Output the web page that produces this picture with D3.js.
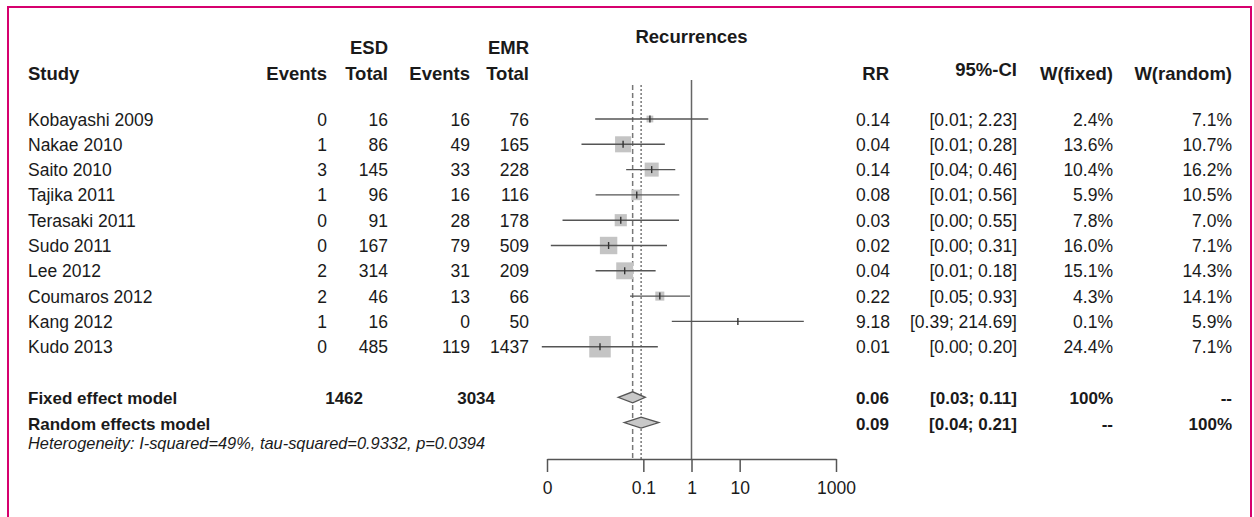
<!DOCTYPE html>
<html>
<head>
<meta charset="utf-8">
<style>
  body { margin: 0; background: #fff; }
  svg text { font-family: "Liberation Sans", Arial, sans-serif; fill: #1a1a1a; }
</style>
</head>
<body>
<script src="https://cdn.jsdelivr.net/npm/d3@7"></script>
<script>
// study table
const studies = ["Kobayashi 2009", "Nakae 2010", "Saito 2010", "Tajika 2011", "Terasaki 2011",
  "Sudo 2011", "Lee 2012", "Coumaros 2012", "Kang 2012", "Kudo 2013"];
const esdEvents = [0, 1, 3, 1, 0, 0, 2, 2, 1, 0];
const esdTotal = [16, 86, 145, 96, 91, 167, 314, 46, 16, 485];
const emrEvents = [16, 49, 33, 16, 28, 79, 31, 13, 0, 119];
const emrTotal = [76, 165, 228, 116, 178, 509, 209, 66, 50, 1437];
const rrLabels = ["0.14", "0.04", "0.14", "0.08", "0.03", "0.02", "0.04", "0.22", "9.18", "0.01"];
const ciLabels = ["[0.01; 2.23]", "[0.01; 0.28]", "[0.04; 0.46]", "[0.01; 0.56]", "[0.00; 0.55]",
  "[0.00; 0.31]", "[0.01; 0.18]", "[0.05; 0.93]", "[0.39; 214.69]", "[0.00; 0.20]"];
const wFixed = [2.4, 13.6, 10.4, 5.9, 7.8, 16.0, 15.1, 4.3, 0.1, 24.4];
const wRandom = [7.1, 10.7, 16.2, 10.5, 7.0, 7.1, 14.3, 14.1, 5.9, 7.1];
// unrounded estimates
const rr = [0.137, 0.038, 0.149, 0.073, 0.034, 0.019, 0.041, 0.22, 9.18, 0.0126];
const lower = [0.0100, 0.0052, 0.044, 0.0102, 0.0021, 0.0012, 0.0102, 0.053, 0.39, 0.00078];
const upper = [2.23, 0.28, 0.46, 0.56, 0.55, 0.31, 0.18, 0.93, 214.69, 0.20];

// pooled models
const models = ["Fixed effect model", "Random effects model"];
const modelRR = [0.06, 0.09];
const modelLower = [0.03, 0.04];
const modelUpper = [0.11, 0.21];
const modelRRLabels = ["0.06", "0.09"];
const modelCILabels = ["[0.03; 0.11]", "[0.04; 0.21]"];
const modelWFixed = ["100%", "--"];
const modelWRandom = ["--", "100%"];
const pooledTotals = [1462, 3034];
const heterogeneity = "Heterogeneity: I-squared=49%, tau-squared=0.9332, p=0.0394";

const axisTicks = [0.001, 0.1, 1, 10, 1000];
const axisTickLabels = ["0", "0.1", "1", "10", "1000"];

const W = 1254, H = 517;
const fs = 17.5;
const hfs = 18.5;
const dark = "#555";

const svg = d3.select("body").append("svg").attr("width", W).attr("height", H);

// frame (no bottom edge)
svg.append("path")
  .attr("d", `M8,${H} L8,7 L1251,7 L1251,${H}`)
  .attr("fill", "none").attr("stroke", "#d6006e").attr("stroke-width", 2);

const x = d3.scaleLog().domain([0.001, 1000]).range([547, 836]);
const y = d3.scaleLinear().domain([0, 1]).range([119, 144.3]);
const size = d3.scaleSqrt().domain([0, 24.4]).range([0, 21.5]);

// headers
const hdr = svg.append("g").attr("font-weight", "bold").attr("font-size", hfs);
hdr.append("text").attr("x", 28).attr("y", 80).text("Study");
hdr.append("text").attr("x", 388).attr("y", 54).attr("text-anchor", "end").text("ESD");
hdr.append("text").attr("x", 529).attr("y", 54).attr("text-anchor", "end").text("EMR");
[["Events", 327], ["Total", 388], ["Events", 470], ["Total", 529], ["RR", 889], ["W(fixed)", 1113], ["W(random)", 1232]]
  .forEach(([t, xx]) => hdr.append("text").attr("x", xx).attr("y", 80).attr("text-anchor", "end").text(t));
hdr.append("text").attr("x", 1017).attr("y", 76).attr("text-anchor", "end").text("95%-CI");
hdr.append("text").attr("x", x(1)).attr("y", 43).attr("text-anchor", "middle").text("Recurrences");

// study rows
const rows = svg.append("g").attr("font-size", fs);
studies.forEach((s, i) => {
  const by = y(i) + 6.5;
  rows.append("text").attr("x", 28).attr("y", by).text(s);
  const cells = [[esdEvents[i], 327], [esdTotal[i], 388], [emrEvents[i], 470], [emrTotal[i], 529],
    [rrLabels[i], 890], [ciLabels[i], 1017], [wFixed[i].toFixed(1) + "%", 1113], [wRandom[i].toFixed(1) + "%", 1232]];
  cells.forEach(([t, xx]) => rows.append("text").attr("x", xx).attr("y", by).attr("text-anchor", "end").text(t));
});

// pooled rows
const mrows = svg.append("g").attr("font-size", 17).attr("font-weight", "bold");
models.forEach((m, j) => {
  const by = y(11 + j) + 7;
  mrows.append("text").attr("x", 28).attr("y", by).text(m);
  const cells = [[modelRRLabels[j], 889], [modelCILabels[j], 1017], [modelWFixed[j], 1113], [modelWRandom[j], 1232]];
  cells.forEach(([t, xx]) => mrows.append("text").attr("x", xx).attr("y", by).attr("text-anchor", "end").text(t));
});
mrows.append("text").attr("x", 363).attr("y", y(11) + 7).attr("text-anchor", "end").text(pooledTotals[0]);
mrows.append("text").attr("x", 495).attr("y", y(11) + 7).attr("text-anchor", "end").text(pooledTotals[1]);

svg.append("text").attr("x", 28).attr("y", y(13) + 1.5).attr("font-size", 16.4)
  .attr("font-style", "italic").text(heterogeneity);

// reference lines
const axisY = 459;
svg.append("line").attr("x1", x(1)).attr("x2", x(1)).attr("y1", 80).attr("y2", axisY)
  .attr("stroke", "#666").attr("stroke-width", 1.5);
svg.append("line").attr("x1", x(modelRR[0])).attr("x2", x(modelRR[0])).attr("y1", 85).attr("y2", axisY)
  .attr("stroke", "#777").attr("stroke-width", 1.5).attr("stroke-dasharray", "5,3");
svg.append("line").attr("x1", x(modelRR[1])).attr("x2", x(modelRR[1])).attr("y1", 85).attr("y2", axisY)
  .attr("stroke", "#777").attr("stroke-width", 1.5).attr("stroke-dasharray", "2,2");

// study marks
const marks = svg.append("g");
studies.forEach((s, i) => {
  const cy = y(i), cx = x(rr[i]), sz = size(wFixed[i]);
  marks.append("rect").attr("x", cx - sz / 2).attr("y", cy - sz / 2).attr("width", sz).attr("height", sz)
    .attr("fill", "#c4c4c4");
  marks.append("line").attr("x1", x(lower[i])).attr("x2", x(upper[i])).attr("y1", cy).attr("y2", cy)
    .attr("stroke", dark).attr("stroke-width", 1.4);
  marks.append("line").attr("x1", cx).attr("x2", cx).attr("y1", cy - 3.5).attr("y2", cy + 3.5)
    .attr("stroke", "#333").attr("stroke-width", 1.4);
});

// diamonds
models.forEach((m, j) => {
  const cy = y(11 + j), hh = 5.5;
  svg.append("path")
    .attr("d", `M${x(modelLower[j])},${cy} L${x(modelRR[j])},${cy - hh} L${x(modelUpper[j])},${cy} L${x(modelRR[j])},${cy + hh} Z`)
    .attr("fill", "#c8c8c8").attr("stroke", dark).attr("stroke-width", 1.3);
});

// axis
const axis = d3.axisBottom(x).tickValues(axisTicks)
  .tickFormat((d, i) => axisTickLabels[i]).tickSize(13).tickSizeOuter(0).tickPadding(10);
const ag = svg.append("g").attr("transform", `translate(0,${axisY})`).call(axis);
ag.select(".domain").attr("stroke", dark).attr("stroke-width", 1.5);
ag.selectAll(".tick line").attr("stroke", dark).attr("stroke-width", 1.5);
ag.selectAll(".tick text").attr("font-size", 17.5).attr("font-family", "Liberation Sans, Arial, sans-serif")
  .attr("fill", "#1a1a1a");
</script>
</body>
</html>
